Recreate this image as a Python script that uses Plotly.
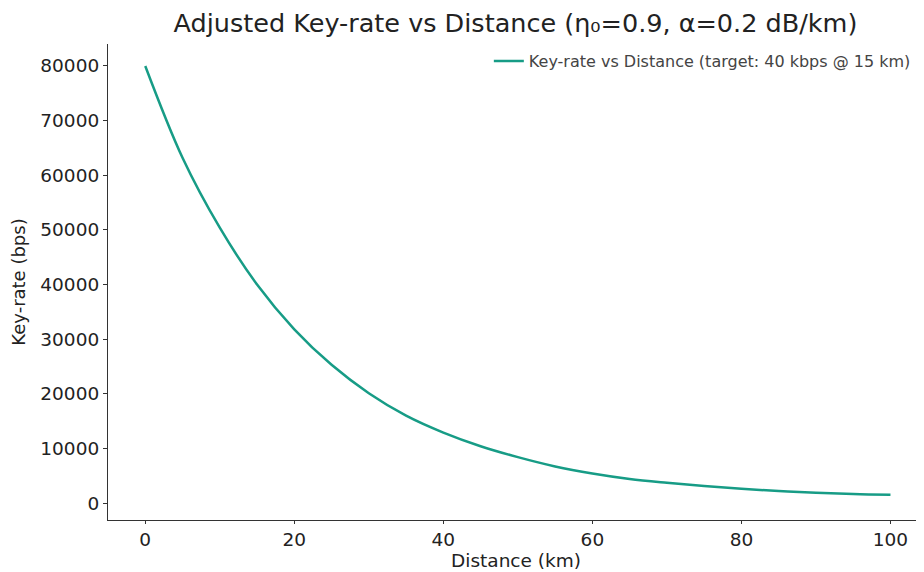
import plotly.graph_objects as go

distance_km = [0, 5, 10, 15, 20, 25, 30, 35, 40, 45, 50, 55, 60, 65, 70, 75, 80, 85, 90, 95, 100]
key_rate_bps = [80000, 63200, 50400, 40000, 31800, 25300, 20100, 16000, 12900, 10400,
                8400, 6700, 5400, 4400, 3700, 3100, 2600, 2200, 1900, 1650, 1500]

x_ticks = [0, 20, 40, 60, 80, 100]
y_ticks = [0, 10000, 20000, 30000, 40000, 50000, 60000, 70000, 80000]

title_text = "Adjusted Key-rate vs Distance (η₀=0.9, α=0.2 dB/km)"
series_name = "Key-rate vs Distance (target: 40 kbps @ 15 km)"

font_family = "DejaVu Sans"
text_color = "#222222"

fig = go.Figure()
fig.add_trace(go.Scatter(
    x=distance_km, y=key_rate_bps, mode="lines", name=series_name,
    line=dict(color="#179c86", width=2.5, shape="spline", smoothing=1.0),
))

fig.update_layout(
    width=916, height=564,
    margin=dict(l=100, r=0, t=36, b=52),
    paper_bgcolor="white", plot_bgcolor="white",
    font=dict(family=font_family, color=text_color, size=16),
    title=dict(text=title_text, x=0.554, xanchor="center", y=0.974, yanchor="middle",
               font=dict(size=25.5, family=font_family, color=text_color)),
    showlegend=True,
    legend=dict(x=0.99, y=1.0, xanchor="right", yanchor="top",
                bgcolor="rgba(255,255,255,0)", font=dict(size=16, color="#444444")),
    xaxis=dict(
        range=[-5, 104.5], tickvals=x_ticks, ticktext=[str(v) for v in x_ticks],
        showgrid=False, zeroline=False, showline=True, linecolor="#333333", linewidth=1.2,
        ticks="outside", ticklen=3, tickcolor="#333333",
        tickfont=dict(size=18.5, family=font_family),
        title=dict(text="Distance (km)", font=dict(size=18.5, family=font_family), standoff=2),
    ),
    yaxis=dict(
        range=[-3105, 84018], tickvals=y_ticks, ticktext=[str(v) for v in y_ticks],
        showgrid=False, zeroline=False, showline=True, linecolor="#333333", linewidth=1.2,
        ticks="outside", ticklen=4, tickcolor="#333333",
        tickfont=dict(size=18.5, family=font_family),
        title=dict(text="Key-rate (bps)", font=dict(size=18, family=font_family), standoff=10),
    ),
)

fig.write_html("out.html")
